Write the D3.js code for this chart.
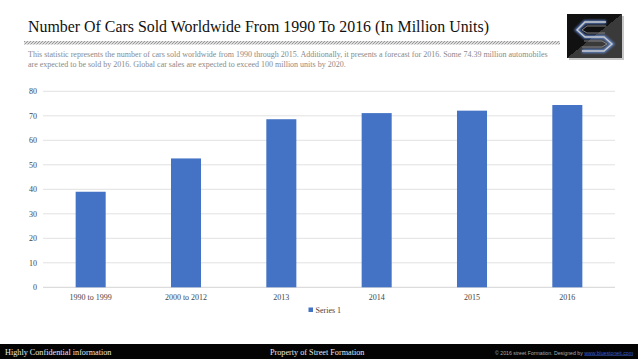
<!DOCTYPE html>
<html><head><meta charset="utf-8">
<script src="https://cdn.jsdelivr.net/npm/d3@7"></script>
<style>body{margin:0;background:#fff;}svg{display:block;}</style>
</head><body>
<script>
const categories = ["1990 to 1999","2000 to 2012","2013","2014","2015","2016"];
const series1 = [39.0, 52.6, 68.6, 71.1, 72.1, 74.4];
const yTicks = [0,10,20,30,40,50,60,70,80];
const seriesName = "Series 1";
const titleText = "Number Of Cars Sold Worldwide From 1990 To 2016 (In Million Units)";
const descLines = ["This statistic represents the number of cars sold worldwide from 1990 through 2015. Additionally, it presents a forecast for 2016. Some 74.39 million automobiles",
 "are expected to be sold by 2016. Global car sales are expected to exceed 100 million units by 2020."];

const W=638,H=359;
const svg=d3.select("body").append("svg").attr("width",W).attr("height",H);
const serif="'Liberation Serif','Times New Roman',serif";

const defs=svg.append("defs");
const pat=defs.append("pattern").attr("id","hatch").attr("width",3).attr("height",3).attr("patternUnits","userSpaceOnUse");
pat.append("rect").attr("width",3).attr("height",3).attr("fill","#dcdcdc");
pat.append("path").attr("d","M0,3 L3,0 M-1,1 L1,-1 M2,4 L4,2").attr("stroke","#888").attr("stroke-width",0.8);
const lg=defs.append("linearGradient").attr("id","logoBg").attr("x1","0").attr("y1","0").attr("x2","1").attr("y2","1");
lg.append("stop").attr("offset","0.5").attr("stop-color","#111");
lg.append("stop").attr("offset","0.5").attr("stop-color","#3a3a3a");
const flt=defs.append("filter").attr("id","glow").attr("x","-50%").attr("y","-50%").attr("width","200%").attr("height","200%");
flt.append("feGaussianBlur").attr("stdDeviation",1.2);

svg.append("text").attr("x",28).attr("y",32).attr("font-family",serif).attr("font-size",15.9).attr("fill","#111").text(titleText);
svg.append("rect").attr("x",24).attr("y",41).attr("width",536).attr("height",3.5).attr("fill","url(#hatch)");
descLines.forEach((t,i)=>svg.append("text").attr("x",28).attr("y",57+i*9.5).attr("font-family",serif).attr("font-size",8).attr("fill","#8a8a8a").text(t));

const lgG=svg.append("g");
lgG.append("rect").attr("x",569).attr("y",16).attr("width",55).attr("height",44).attr("fill","#c8c8c8");
lgG.append("rect").attr("x",567).attr("y",14).attr("width",55).attr("height",44).attr("fill","url(#logoBg)");
const sPath="M606,22 L585,22 L577,30 L585,37 L604,37 L612,44 L604,51 L582,51";
lgG.append("path").attr("d",sPath).attr("fill","none").attr("stroke","#6fa0ff").attr("stroke-width",4).attr("filter","url(#glow)").attr("opacity",0.7);
lgG.append("path").attr("d",sPath).attr("fill","none").attr("stroke","#c8c8c8").attr("stroke-width",1.4);
lgG.append("path").attr("d","M606,26 L587,26 L582,30 L587,33 L605,33").attr("fill","none").attr("stroke","#999").attr("stroke-width",0.8);
lgG.append("path").attr("d","M584,41 L602,41 L607,44 L602,47 L582,47").attr("fill","none").attr("stroke","#999").attr("stroke-width",0.8);

const m={l:43,r:615,t:91.3,b:287.3};
const x=d3.scaleBand().domain(categories).range([m.l,m.r]).paddingInner(0.685).paddingOuter(0.3425);
const y=d3.scaleLinear().domain([0,80]).range([m.b,m.t]);

const grid=svg.append("g");
grid.selectAll("line").data(yTicks).join("line")
 .attr("x1",m.l).attr("x2",m.r).attr("y1",d=>y(d)).attr("y2",d=>y(d))
 .attr("stroke",d=>d===0?"#c8c8c8":"#d9d9d9").attr("stroke-width",0.8);

const yAxis=svg.append("g").attr("transform",`translate(${m.l},0)`)
 .call(d3.axisLeft(y).tickValues(yTicks).tickSize(0).tickPadding(6));
yAxis.select(".domain").remove();
yAxis.selectAll("text").attr("font-family",serif).attr("font-size",8).attr("fill","#444");

svg.append("g").selectAll("rect").data(series1).join("rect")
 .attr("x",(d,i)=>x(categories[i])).attr("width",x.bandwidth())
 .attr("y",d=>y(d)).attr("height",d=>y(0)-y(d)).attr("fill","#4472c4");

const xAxis=svg.append("g").attr("transform",`translate(0,${m.b})`)
 .call(d3.axisBottom(x).tickSize(0).tickPadding(7));
xAxis.select(".domain").remove();
xAxis.selectAll("text").attr("font-family",serif).attr("font-size",8).attr("fill","#444");

svg.append("rect").attr("x",308.5).attr("y",307.5).attr("width",4.5).attr("height",4.5).attr("fill","#4472c4");
svg.append("text").attr("x",315.5).attr("y",312.5).attr("font-family",serif).attr("font-size",8).attr("fill","#444").text(seriesName);

svg.append("rect").attr("x",0).attr("y",344).attr("width",W).attr("height",15).attr("fill","#040404");
svg.append("text").attr("x",5).attr("y",355).attr("font-family",serif).attr("font-size",8.2).attr("fill","#e8e8e8").text("Highly Confidential information");
svg.append("text").attr("x",270).attr("y",355).attr("font-family",serif).attr("font-size",8.2).attr("fill","#e8e8e8").text("Property of Street Formation");
const ft=svg.append("text").attr("x",633).attr("y",354.5).attr("text-anchor","end").attr("font-family","'Liberation Sans',Arial,sans-serif").attr("font-size",5.2).attr("fill","#aaa");
ft.append("tspan").text("© 2016 street Formation. Designed by ");
ft.append("tspan").attr("fill","#3a5fd0").attr("text-decoration","underline").text("www.bluestoneit.com");
</script>
</body></html>
